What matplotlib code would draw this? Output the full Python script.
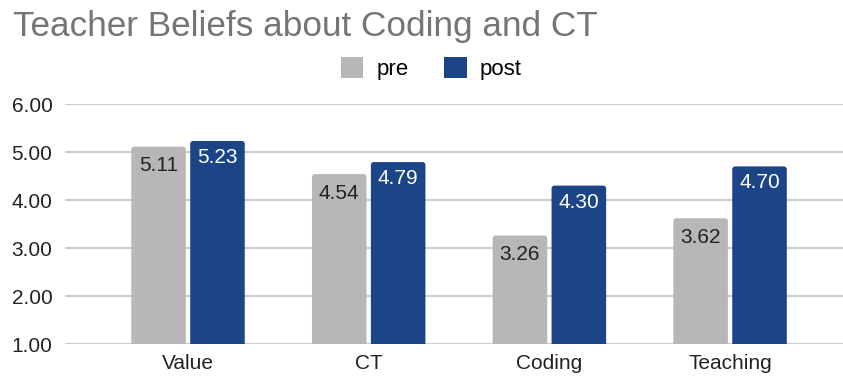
import matplotlib
matplotlib.use("Agg")
import matplotlib.pyplot as plt
from matplotlib.patches import Patch, FancyBboxPatch

plt.rcParams['font.family'] = ['Liberation Sans', 'DejaVu Sans']

categories = ["Value", "CT", "Coding", "Teaching"]
pre = [5.11, 4.54, 3.26, 3.62]
post = [5.23, 4.79, 4.30, 4.70]
yticks = [1, 2, 3, 4, 5, 6]

grey = "#b7b7b7"
blue = "#1c4587"

fig = plt.figure(figsize=(8.43, 3.76), dpi=100)
ax = fig.add_axes([0.0771, 0.0851, 0.9229, 0.6383])

x = list(range(len(categories)))
w = 0.302
off = 0.163
base = 0.9  # start below the axis floor so only the top corners show rounding
b1 = ax.bar([i - off for i in x], [v - base for v in pre], bottom=base, width=w, color=grey, zorder=3)
b2 = ax.bar([i + off for i in x], [v - base for v in post], bottom=base, width=w, color=blue, zorder=3)

# swap the square bars for slightly rounded ones
for cont in (b1, b2):
    for r in cont.patches:
        fb = FancyBboxPatch((r.get_x(), r.get_y()), r.get_width(), r.get_height(),
                            boxstyle="round,pad=0,rounding_size=0.016",
                            mutation_aspect=3.76, facecolor=r.get_facecolor(),
                            edgecolor="none", zorder=3)
        ax.add_patch(fb)
        r.set_visible(False)

for i, v in enumerate(pre):
    ax.annotate(f"{v:.2f}", (i - off, v), xytext=(0, -7), textcoords="offset points",
                ha="center", va="top", fontsize=15, color="#222222", zorder=4)
for i, v in enumerate(post):
    ax.annotate(f"{v:.2f}", (i + off, v), xytext=(0, -5), textcoords="offset points",
                ha="center", va="top", fontsize=15, color="white", zorder=4)

ax.set_xlim(-0.681, 3.625)
ax.set_ylim(1, 6)
ax.set_yticks(yticks)
ax.set_yticklabels([f"{t:.2f}" for t in yticks], fontsize=15, color="#222222")
ax.set_xticks(x)
ax.set_xticklabels(categories, fontsize=15, color="#222222")
ax.tick_params(axis="both", length=0)
ax.tick_params(axis="y", pad=9)
ax.tick_params(axis="x", pad=7)
ax.grid(axis="y", color="#cccccc", linewidth=1.5, zorder=0)
for s in ax.spines.values():
    s.set_visible(False)

fig.text(0.015, 0.93, "Teacher Beliefs about Coding and CT", fontsize=25.3, color="#757575",
         ha="left", va="center")

handles = [Patch(facecolor=grey, edgecolor="none"), Patch(facecolor=blue, edgecolor="none")]
fig.legend(handles, ["pre", "post"], loc="center", bbox_to_anchor=(0.512, 0.818), ncol=2,
           frameon=False, fontsize=16, handlelength=1.0, handleheight=1.1,
           handletextpad=0.6, columnspacing=1.6)

fig.savefig("out.png", dpi=100)
